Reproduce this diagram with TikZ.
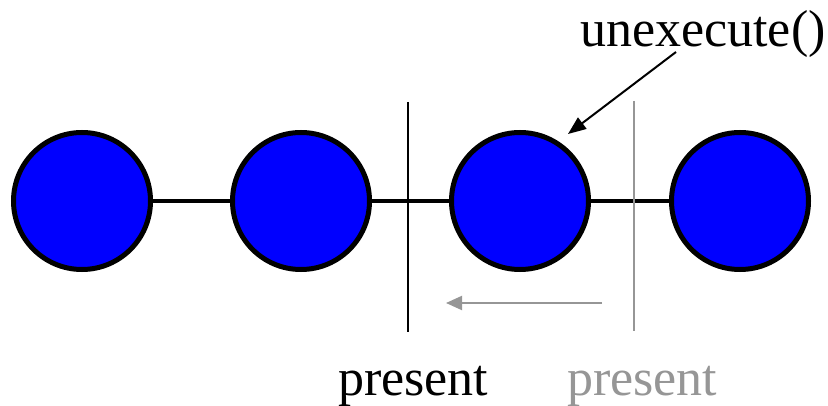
\documentclass[tikz,border=0pt]{standalone}
\usepackage{fontspec}
\setmainfont{Liberation Serif}
\usetikzlibrary{arrows.meta}
\definecolor{lgray}{RGB}{150,150,150}
\begin{document}
\begin{tikzpicture}[x=1pt,y=-1pt,
  ball/.style={circle,draw=black,fill=blue,line width=5pt,minimum size=137pt,inner sep=0pt},
  link/.style={line width=4.5pt},
  bar/.style={line width=2pt},
  lbl/.style={font=\fontsize{52}{60}\selectfont,inner sep=0pt,anchor=base west}]
\useasboundingbox (0,0) rectangle (828,406);
\node[ball] (c1) at (82,201) {};
\node[ball] (c2) at (301,201) {};
\node[ball] (c3) at (520,201) {};
\node[ball] (c4) at (740,201) {};
\draw[link] (c1) -- (c2);
\draw[link] (c2) -- (c3);
\draw[link] (c3) -- (c4);
\coordinate (b1) at (408,102);
\coordinate (b2) at (408,332);
\coordinate (g1) at (634,101);
\coordinate (g2) at (634,331);
\draw[bar] (b1) -- (b2);
\draw[bar,lgray] (g1) -- (g2);
\coordinate (ga) at (602,303);
\coordinate (gb) at (446,303);
\draw[bar,lgray,-{Triangle[length=16pt,width=14pt]}] (ga) -- (gb);
\node[lbl] (un) at (580,47) {unexecute()};
\coordinate (ua) at (676,52);
\coordinate (ub) at (568,134);
\draw[bar,-{Triangle[length=18pt,width=14pt]}] (ua) -- (ub);
\node[lbl] (p1) at (338,395) {present};
\node[lbl,text=lgray] (p2) at (567,395) {present};
\end{tikzpicture}
\end{document}
